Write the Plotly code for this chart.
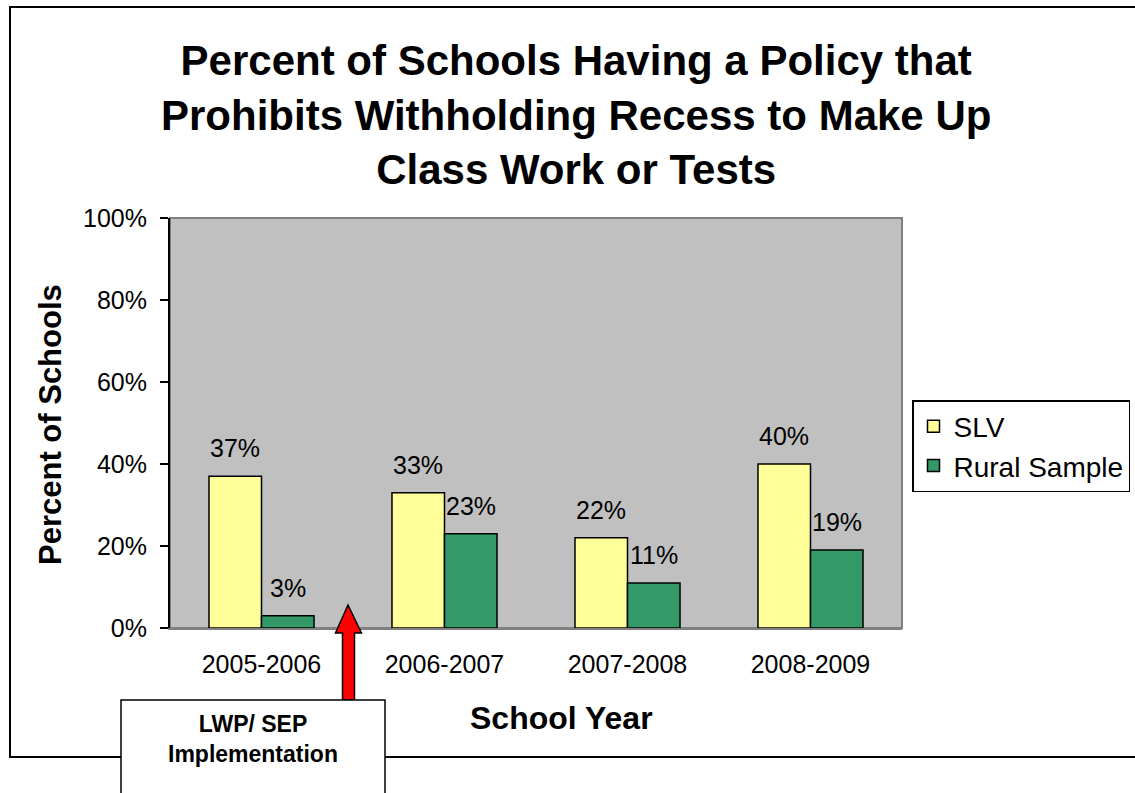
import plotly.graph_objects as go

# ---- data ----
years = ["2005-2006", "2006-2007", "2007-2008", "2008-2009"]
slv = [37, 33, 22, 40]
rural = [3, 23, 11, 19]
series_names = ["SLV", "Rural Sample"]
y_ticks = [0, 20, 40, 60, 80, 100]
y_tick_text = ["0%", "20%", "40%", "60%", "80%", "100%"]
title_lines = [
    "Percent of Schools Having a Policy that",
    "Prohibits Withholding Recess to Make Up",
    "Class Work or Tests",
]
x_title = "School Year"
y_title = "Percent of Schools"
callout_lines = ["LWP/ SEP", "Implementation"]

# ---- layout constants ----
FONT = "Liberation Sans, Arial, sans-serif"
WIDTH, HEIGHT = 1135, 793
L, R, T, B = 170, 902, 218, 628          # plot area in pixels
BARGAP = 0.426
SLV_COLOR = "#FFFF99"
RURAL_COLOR = "#339966"


def px(x):
    """pixel x -> paper x"""
    return (x - L) / (R - L)


def py(y):
    """pixel y (from top) -> paper y"""
    return (B - y) / (B - T)


fig = go.Figure()
fig.add_trace(go.Bar(
    x=years, y=slv, name=series_names[0], legendgroup="a",
    marker=dict(color=SLV_COLOR, line=dict(color="black", width=1.5)),
))
fig.add_trace(go.Bar(
    x=years, y=rural, name=series_names[1], legendgroup="b",
    marker=dict(color=RURAL_COLOR, line=dict(color="black", width=1.5)),
))

# value labels centred above each bar
half = (1 - BARGAP) / 4
annotations = []
for i in range(len(years)):
    for off, vals in ((-half, slv), (half, rural)):
        annotations.append(dict(
            x=i + off, y=vals[i], xref="x", yref="y",
            text=f"{vals[i]}%", showarrow=False,
            yanchor="bottom", yshift=12,
            font=dict(family=FONT, size=25, color="black"),
        ))

# chart title
annotations.append(dict(
    x=px(576), y=py(115), xref="paper", yref="paper",
    text="<br>".join(f"<b>{t}</b>" for t in title_lines), showarrow=False,
    xanchor="center", yanchor="middle", align="center",
    font=dict(family=FONT, size=42, color="black"),
))
# axis titles
annotations.append(dict(
    x=px(561), y=py(718), xref="paper", yref="paper",
    text=f"<b>{x_title}</b>", showarrow=False,
    xanchor="center", yanchor="middle",
    font=dict(family=FONT, size=32, color="black"),
))
annotations.append(dict(
    x=px(50), y=py(425), xref="paper", yref="paper",
    text=f"<b>{y_title}</b>", showarrow=False, textangle=-90,
    xanchor="center", yanchor="middle",
    font=dict(family=FONT, size=31, color="black"),
))
# callout text
annotations.append(dict(
    x=px(253), y=py(739), xref="paper", yref="paper",
    text="<br>".join(f"<b>{t}</b>" for t in callout_lines), showarrow=False,
    xanchor="center", yanchor="middle", align="center",
    font=dict(family=FONT, size=23, color="black"),
))


def path_from(points):
    return "M " + " L ".join(f"{px(x):.5f},{py(y):.5f}" for x, y in points) + " Z"


arrow_pts = [(348, 605), (361.5, 633), (354.5, 633), (354.5, 700),
             (342.5, 700), (342.5, 633), (335.5, 633)]

shapes = [
    # outer chart frame
    dict(type="rect", xref="paper", yref="paper",
         x0=px(10), x1=px(1160), y0=py(7), y1=py(757),
         line=dict(color="black", width=2), fillcolor="rgba(0,0,0,0)", layer="below"),
    # plot area border
    dict(type="rect", xref="paper", yref="paper",
         x0=0, x1=1, y0=0, y1=1,
         line=dict(color="#808080", width=2), fillcolor="rgba(0,0,0,0)", layer="below"),
    # red arrow
    dict(type="path", xref="paper", yref="paper", path=path_from(arrow_pts),
         fillcolor="#FF0000", line=dict(color="black", width=1.5), layer="above"),
    # callout box
    dict(type="rect", xref="paper", yref="paper",
         x0=px(121), x1=px(385), y0=py(700), y1=py(820),
         fillcolor="white", line=dict(color="black", width=1.5), layer="above"),
]

fig.update_layout(
    width=WIDTH, height=HEIGHT,
    margin=dict(l=L, r=WIDTH - R, t=T, b=HEIGHT - B, pad=0, autoexpand=False),
    paper_bgcolor="white", plot_bgcolor="#C0C0C0",
    barmode="group", bargap=BARGAP, bargroupgap=0,
    font=dict(family=FONT, color="black"),
    showlegend=True,
    legend=dict(
        xref="container", yref="container",
        x=912 / WIDTH, y=1 - 400 / HEIGHT, xanchor="left", yanchor="top",
        bgcolor="white", bordercolor="black", borderwidth=1.5,
        font=dict(family=FONT, size=28, color="black"),
        tracegroupgap=5, traceorder="normal",
    ),
    annotations=annotations,
    shapes=shapes,
)
fig.update_xaxes(
    type="category", showgrid=False, showline=True, linecolor="#808080", linewidth=2,
    ticks="", tickfont=dict(family=FONT, size=25, color="black"),
    ticklabelstandoff=13, fixedrange=True,
)
fig.update_yaxes(
    range=[0, 100], tickmode="array", tickvals=y_ticks, ticktext=y_tick_text,
    showgrid=False, showline=True, linecolor="black", linewidth=2,
    ticks="outside", ticklen=8, tickcolor="black", tickwidth=2,
    tickfont=dict(family=FONT, size=25, color="black"),
    ticklabelstandoff=8, zeroline=False, fixedrange=True,
)

fig.write_html("out.html")
